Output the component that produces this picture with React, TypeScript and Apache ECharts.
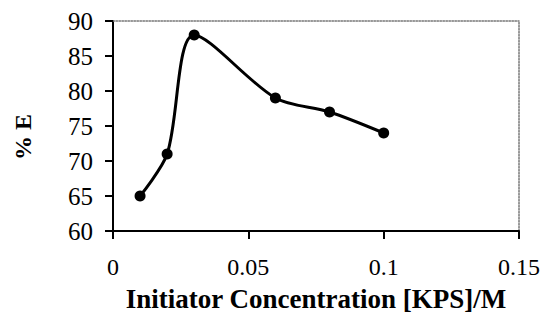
import React, { useEffect, useRef } from "react";
import * as echarts from "echarts";

const xValues = [0.01, 0.02, 0.03, 0.06, 0.08, 0.1];
const yValues = [65, 71, 88, 79, 77, 74];
const xName = "Initiator Concentration [KPS]/M";
const yName = "% E";

export default function App() {
  const ref = useRef<HTMLDivElement>(null);
  useEffect(() => {
    if (!ref.current) return;
    const chart = echarts.init(ref.current, undefined, { renderer: "svg" });
    const font = "Liberation Serif";
    chart.setOption({
      animation: false,
      backgroundColor: "#fff",
      grid: { left: 113, top: 21, right: 23, bottom: 84 },
      xAxis: [
        {
          type: "value",
          min: 0,
          max: 0.15,
          interval: 0.05,
          position: "bottom",
          name: xName,
          nameLocation: "middle",
          nameGap: 54,
          nameTextStyle: { fontFamily: font, fontSize: 27, fontWeight: "bold", color: "#000" },
          axisLine: { show: true, onZero: false, lineStyle: { color: "#000", width: 2 } },
          axisTick: { show: true, inside: false, length: 8, lineStyle: { color: "#000", width: 2 } },
          axisLabel: {
            fontFamily: font,
            fontSize: 24,
            color: "#000",
            margin: 24,
            formatter: (v: number) => String(Math.round(v * 100) / 100),
          },
          splitLine: { show: false },
        },
        {
          type: "value",
          min: 0,
          max: 0.15,
          position: "top",
          axisLine: { show: true, onZero: false, lineStyle: { color: "#777", width: 1.5, type: "dotted" } },
          axisTick: { show: false },
          axisLabel: { show: false },
          splitLine: { show: false },
        },
      ],
      yAxis: [
        {
          type: "value",
          min: 60,
          max: 90,
          interval: 5,
          position: "left",
          name: yName,
          nameLocation: "middle",
          nameGap: 78,
          nameRotate: 90,
          nameTextStyle: {
            fontFamily: font,
            fontSize: 24,
            fontWeight: "bold",
            color: "#000",
            padding: [0, 22, 0, 0],
          },
          axisLine: { show: true, onZero: false, lineStyle: { color: "#000", width: 2 } },
          axisTick: { show: true, inside: false, length: 8, lineStyle: { color: "#000", width: 2 } },
          axisLabel: { fontFamily: font, fontSize: 25, color: "#000", margin: 20 },
          splitLine: { show: false },
        },
        {
          type: "value",
          min: 60,
          max: 90,
          position: "right",
          axisLine: { show: true, onZero: false, lineStyle: { color: "#777", width: 1.5, type: "dotted" } },
          axisTick: { show: false },
          axisLabel: { show: false },
          splitLine: { show: false },
        },
      ],
      series: [
        {
          type: "line",
          xAxisIndex: 0,
          yAxisIndex: 0,
          data: xValues.map((x, i) => [x, yValues[i]]),
          smooth: 0.3,
          symbol: "circle",
          symbolSize: 11,
          lineStyle: { color: "#000", width: 3 },
          itemStyle: { color: "#000" },
        },
      ],
    });
    return () => chart.dispose();
  }, []);
  return (
    <div
      ref={ref}
      style={{ position: "fixed", left: 0, top: 0, width: 543, height: 317 }}
    />
  );
}
